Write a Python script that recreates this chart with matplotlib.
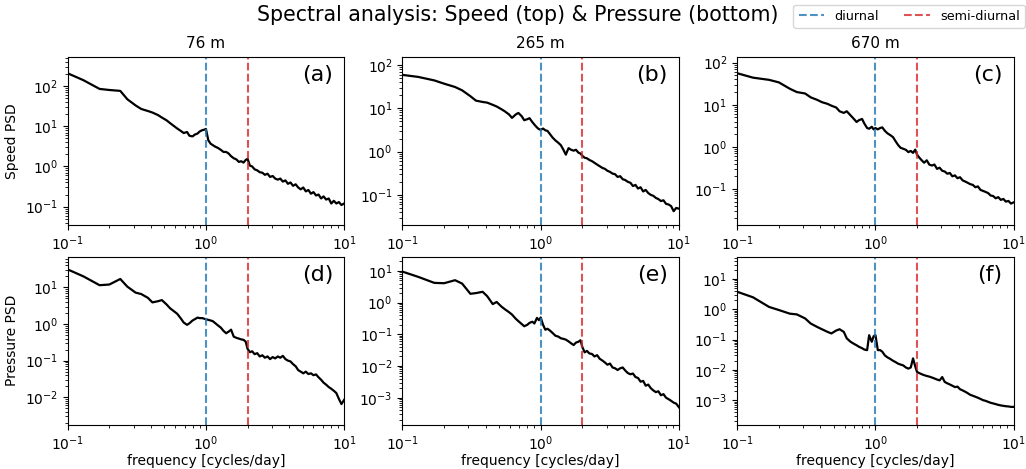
import matplotlib.pyplot as plt
import numpy as np

freq = [0.1, 0.13, 0.17, 0.2, 0.24, 0.27, 0.31, 0.34, 0.38, 0.41,
        0.45, 0.48, 0.52, 0.55, 0.59, 0.62, 0.66, 0.69, 0.73, 0.76,
        0.8, 0.83, 0.87, 0.9, 0.94, 0.97, 1.0, 1.04, 1.08, 1.12,
        1.17, 1.22, 1.28, 1.34, 1.4, 1.46, 1.52, 1.59, 1.66, 1.73,
        1.8, 1.87, 1.94, 2.0, 2.08, 2.16, 2.25, 2.35, 2.45, 2.56,
        2.67, 2.79, 2.91, 3.04, 3.17, 3.31, 3.45, 3.6, 3.76, 3.92,
        4.09, 4.27, 4.46, 4.65, 4.85, 5.06, 5.28, 5.51, 5.75, 6.0,
        6.26, 6.53, 6.81, 7.1, 7.41, 7.73, 8.07, 8.42, 8.78, 9.16, 9.56, 10.0]

# speed PSD
speed_76 = [208, 140, 85, 80, 76, 47, 33, 27, 24, 22,
            19, 16.5, 14, 12, 10, 8.8, 7.6, 6.8, 7.2, 5.8,
            5.6, 6.2, 6.6, 7.4, 8.0, 8.2, 8.6, 4.5, 3.7, 3.4,
            3.1, 2.9, 2.6, 2.3, 2.3, 2.1, 1.8, 1.6, 1.5, 1.3,
            1.35, 1.25, 1.45, 1.55, 1.05, 1.0, 0.85, 0.8, 0.72, 0.7,
            0.62, 0.66, 0.55, 0.58, 0.5, 0.47, 0.5, 0.42, 0.45, 0.37,
            0.4, 0.33, 0.36, 0.3, 0.27, 0.3, 0.24, 0.26, 0.21, 0.23,
            0.19, 0.2, 0.16, 0.18, 0.15, 0.16, 0.12, 0.14, 0.12, 0.13, 0.11, 0.12]
speed_265 = [59, 53, 44, 37, 31, 26, 19, 15, 14, 13.5,
             12, 11, 9.5, 8.5, 7.2, 6.0, 7.2, 7.8, 6.5, 5.3,
             5.6, 5.9, 4.8, 4.2, 3.6, 3.3, 3.2, 3.4, 3.1, 3.0,
             2.5, 2.1, 1.8, 1.6, 1.4, 1.1, 0.85, 1.2, 1.1, 1.05,
             1.1, 0.95, 0.9, 0.8, 0.72, 0.7, 0.64, 0.6, 0.55, 0.5,
             0.46, 0.42, 0.4, 0.36, 0.34, 0.31, 0.3, 0.26, 0.27, 0.23,
             0.22, 0.2, 0.19, 0.16, 0.17, 0.14, 0.15, 0.12, 0.13, 0.11,
             0.1, 0.095, 0.085, 0.08, 0.072, 0.075, 0.062, 0.06, 0.055, 0.042, 0.05, 0.048]
speed_670 = [56, 44, 39, 34, 24, 20, 18.5, 15, 13, 11.5,
             10.5, 9.5, 8.6, 7.0, 6.4, 7.0, 5.6, 4.8, 3.9, 4.3,
             4.6, 3.6, 2.8, 2.7, 3.0, 2.6, 2.8, 2.6, 2.8, 2.9,
             2.4, 2.1, 1.9, 1.7, 1.35, 1.1, 0.95, 0.9, 0.85, 0.75,
             0.8, 0.72, 0.86, 0.65, 0.55, 0.48, 0.42, 0.48, 0.38, 0.36,
             0.38, 0.3, 0.32, 0.27, 0.26, 0.23, 0.24, 0.2, 0.21, 0.18,
             0.19, 0.16, 0.15, 0.14, 0.13, 0.125, 0.11, 0.115, 0.095, 0.09,
             0.085, 0.08, 0.07, 0.068, 0.06, 0.064, 0.055, 0.058, 0.05, 0.052, 0.045, 0.048]

# pressure PSD
pres_76 = [31, 20, 11.5, 12, 17, 10.5, 7.2, 6.6, 5.2, 3.9,
           4.2, 4.5, 3.4, 2.7, 2.2, 1.9, 1.4, 1.1, 0.95, 1.05,
           1.25, 1.35, 1.5, 1.45, 1.45, 1.4, 1.35, 1.3, 1.25, 1.2,
           1.05, 0.92, 0.8, 0.65, 0.56, 0.62, 0.7, 0.45, 0.42, 0.4,
           0.38, 0.37, 0.33, 0.21, 0.17, 0.18, 0.15, 0.16, 0.13, 0.14,
           0.12, 0.13, 0.11, 0.125, 0.115, 0.13, 0.12, 0.135, 0.11, 0.1,
           0.095, 0.08, 0.07, 0.055, 0.05, 0.045, 0.05, 0.043, 0.045, 0.04,
           0.042, 0.035, 0.03, 0.025, 0.022, 0.019, 0.017, 0.015, 0.013, 0.009, 0.0065, 0.0085]
pres_265 = [9.5, 6.5, 4.2, 4.1, 5.1, 4.0, 1.9, 2.0, 2.2, 1.6,
            0.9, 1.05, 0.75, 0.62, 0.5, 0.42, 0.31, 0.26, 0.21, 0.18,
            0.2, 0.23, 0.25, 0.22, 0.33, 0.28, 0.34, 0.2, 0.14, 0.15,
            0.13, 0.11, 0.09, 0.085, 0.075, 0.072, 0.068, 0.06, 0.052, 0.046,
            0.055, 0.058, 0.065, 0.04, 0.027, 0.03, 0.025, 0.024, 0.02, 0.022,
            0.017, 0.015, 0.013, 0.011, 0.012, 0.009, 0.0085, 0.0075, 0.0085, 0.009,
            0.0072, 0.006, 0.0055, 0.0058, 0.0045, 0.0042, 0.0032, 0.0034, 0.0024, 0.0026,
            0.002, 0.0017, 0.0015, 0.0016, 0.0012, 0.0013, 0.001, 0.0009, 0.0008, 0.0007, 0.00065, 0.0005]
pres_670 = [3.8, 2.5, 1.2, 0.95, 0.72, 0.68, 0.5, 0.34, 0.26, 0.22,
            0.18, 0.16, 0.2, 0.22, 0.18, 0.11, 0.085, 0.075, 0.065, 0.058,
            0.052, 0.047, 0.045, 0.14, 0.085, 0.13, 0.14, 0.045, 0.045, 0.04,
            0.03, 0.026, 0.023, 0.02, 0.018, 0.016, 0.015, 0.014, 0.012, 0.011,
            0.012, 0.024, 0.013, 0.0085, 0.0078, 0.0072, 0.0067, 0.0063, 0.006, 0.0056,
            0.0052, 0.0048, 0.0045, 0.0058, 0.004, 0.0036, 0.0033, 0.003, 0.0027, 0.0028,
            0.0023, 0.0021, 0.0019, 0.0017, 0.0015, 0.0014, 0.0013, 0.0012, 0.0011, 0.001,
            0.00095, 0.00088, 0.00082, 0.00078, 0.00074, 0.0007, 0.00067, 0.00065, 0.00063, 0.00062, 0.0006, 0.0006]

depths = ["76 m", "265 m", "670 m"]
panel_labels = ["(a)", "(b)", "(c)", "(d)", "(e)", "(f)"]
speed = [speed_76, speed_265, speed_670]
pressure = [pres_76, pres_265, pres_670]
speed_ylim = [(10**-1.45, 10**2.73), (10**-1.69, 10**2.19), (10**-1.85, 10**2.14)]
pres_ylim = [(10**-2.75, 10**1.84), (10**-3.85, 10**1.45), (10**-3.81, 10**1.74)]

fig, axes = plt.subplots(2, 3, figsize=(10.26, 4.69), dpi=100)
fig.subplots_adjust(left=0.066, right=0.988, top=0.879, bottom=0.0945, wspace=0.211, hspace=0.19)

for i in range(3):
    for row, data, lims in [(0, speed, speed_ylim), (1, pressure, pres_ylim)]:
        ax = axes[row, i]
        ax.loglog(freq, data[i], color="k", lw=1.6)
        l1 = ax.axvline(1, color="C0", ls="--", alpha=0.8, label="diurnal")
        l2 = ax.axvline(2, color="C3", ls="--", alpha=0.8, label="semi-diurnal")
        ax.set_xlim(0.1, 10)
        ax.set_ylim(*lims[i])
        ax.text(0.96, 0.95, panel_labels[row * 3 + i], transform=ax.transAxes,
                ha="right", va="top", fontsize=16)
    axes[0, i].set_title(depths[i], fontsize=11)
    axes[1, i].set_xlabel("frequency [cycles/day]", labelpad=1)

axes[0, 0].set_ylabel("Speed PSD")
axes[1, 0].set_ylabel("Pressure PSD")

fig.suptitle("Spectral analysis: Speed (top) & Pressure (bottom)", fontsize=14.8, x=0.5044, y=0.99)
fig.legend(handles=[l1, l2], loc="upper right", ncol=2, bbox_to_anchor=(0.999, 0.99),
           borderaxespad=0, fontsize=9.2)

plt.savefig("out.png")
